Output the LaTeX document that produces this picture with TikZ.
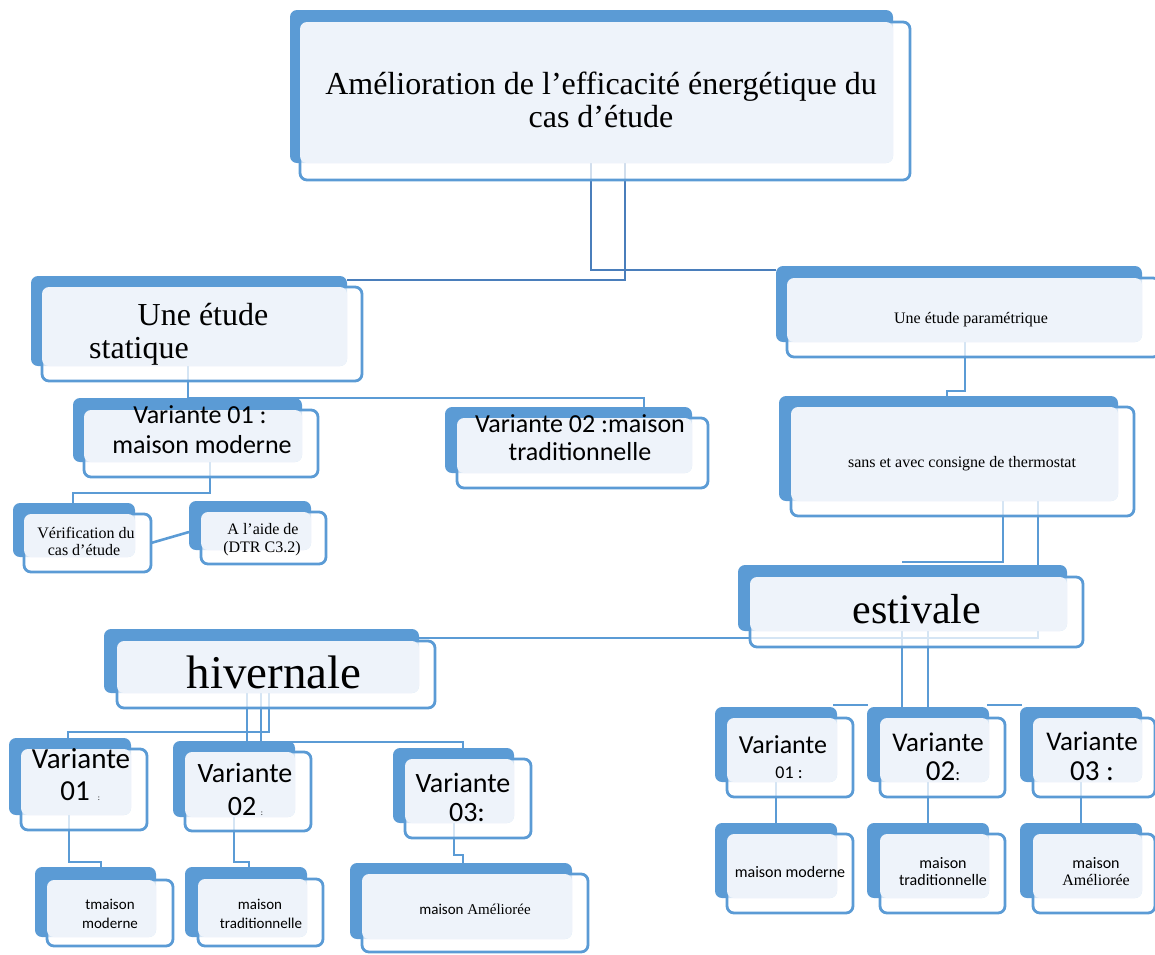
\documentclass[tikz,border=0pt]{standalone}
\usepackage{fontspec}
\setmainfont{Liberation Serif}
\newfontfamily\calfont{Carlito}
\usetikzlibrary{fit,calc,backgrounds}
\definecolor{sablue}{HTML}{5B9BD5}
\definecolor{salight}{HTML}{EEF3FA}
\definecolor{sadark}{HTML}{4A7EBB}
\tikzset{
  backbox/.style={fill=sablue, rounded corners=7pt, inner sep=0pt, outer sep=0pt},
  frontbox/.style={draw=sablue, line width=2.8pt, fill=white, fill opacity=0.75, draw opacity=1, rounded corners=7pt, inner sep=0pt, outer sep=0pt},
  lightfill/.style={fill=salight, rounded corners=7pt},
  conn/.style={draw=sablue, line width=2.6pt},
  conndark/.style={draw=sadark, line width=2.8pt},
  txt/.style={anchor=base, inner sep=0pt, text=black},
  txtw/.style={anchor=base west, inner sep=0pt, text=black},
}
\newcommand\drawsmbox[9]{%
  \node[backbox, fit={(#2,#3) (#4,#5)}] (#1b) {};
  \node[frontbox, fit={(#6,#7) (#8,#9)}] (#1) {};
  \fill[lightfill] (#1.north west) rectangle (#1b.south east);
}
\newcommand\fs[1]{\fontsize{#1}{#1}\selectfont}
\begin{document}
\begin{tikzpicture}[x=1pt,y=-1pt]
\useasboundingbox (0,0) rectangle (1155,954);
% boxes
\drawsmbox{title}{290}{10}{893}{163}{300}{22}{910}{180}
\drawsmbox{stat}{31}{276}{347}{366}{42}{287}{362}{381}
\drawsmbox{param}{776}{266}{1142}{342}{787}{278}{1160}{357}
\drawsmbox{therm}{779}{396}{1118}{501}{791}{407}{1134}{516}
\drawsmbox{est}{738}{565}{1067}{631}{750}{577}{1083}{647}
\drawsmbox{hiv}{104}{629}{419}{693}{117}{641}{435}{708}
\drawsmbox{vas}{73}{398}{302}{462}{84}{410}{318}{477}
\drawsmbox{vbs}{445}{407}{692}{473}{457}{418}{708}{488}
\drawsmbox{verif}{13}{503}{135}{557}{24}{514}{151}{572}
\drawsmbox{aide}{189}{501}{311}{550}{201}{512}{326}{564}
\drawsmbox{hva}{9}{738}{131}{815}{21}{749}{147}{830}
\drawsmbox{hvb}{173}{741}{295}{817}{185}{752}{311}{831}
\drawsmbox{hvc}{393}{748}{514}{823}{405}{759}{531}{838}
\drawsmbox{hma}{35}{867}{156}{937}{47}{880}{173}{946}
\drawsmbox{hmb}{185}{867}{307}{937}{198}{879}{323}{946}
\drawsmbox{hmc}{350}{863}{572}{939}{362}{874}{588}{952}
\drawsmbox{eva}{715}{707}{837}{782}{727}{718}{853}{797}
\drawsmbox{evb}{867}{707}{989}{782}{880}{718}{1005}{797}
\drawsmbox{evc}{1020}{707}{1142}{782}{1033}{718}{1155}{797}
\drawsmbox{ema}{715}{823}{837}{898}{727}{834}{853}{913}
\drawsmbox{emb}{867}{823}{989}{898}{880}{834}{1005}{913}
\drawsmbox{emc}{1020}{823}{1142}{898}{1033}{834}{1155}{913}
% connectors
\begin{pgfonlayer}{background}
\draw[conndark] (titleb.south -| 625,0) |- (statb.east |- 0,280);
\draw[conndark] (titleb.south -| 591,0) |- (paramb.west |- 0,270);
\draw[conn] (statb.south -| 188,0) -- (vasb.north -| 188,0);
\draw[conn] (statb.south -| 188,0) |- ($(vbsb.north -| 644,0)+(0,-9)$) -- (vbsb.north -| 644,0);
\draw[conn] (vasb.south -| 210,0) -- ($(verifb.north -| 210,0)+(0,-10)$) -| (verifb.north -| 73,0);
\draw[conn] (verif.east |- 0,543) -- (aideb.west |- 0,532);
\draw[conn] (paramb.south -| 965,0) -- ($(thermb.north -| 965,0)+(0,-5)$) -| (thermb.north -| 947,0);
\draw[conn] (thermb.south -| 1003,0) |- ($(estb.north -| 902,0)+(0,-3)$);
\draw[conn] (thermb.south -| 1038,0) |- (hivb.east |- 0,638);
\draw[conn] (estb.south -| 902,0) -- (evbb.north -| 902,0);
\draw[conn] (estb.south -| 928,0) -- (evbb.north -| 928,0);
\draw[conn] ($(evab.north east)+(-4,-2)$) -- ($(evbb.north west)+(1,-2)$);
\draw[conn] ($(evbb.north east)+(-2,-2)$) -- ($(evcb.north west)+(2,-2)$);
\draw[conn] (evab.south -| 776,0) -- (emab.north -| 776,0);
\draw[conn] (evbb.south -| 928,0) -- (embb.north -| 928,0);
\draw[conn] (evcb.south -| 1081,0) -- (emcb.north -| 1081,0);
\draw[conn] (hivb.south -| 269,0) |- ($(hvab.north -| 68,0)+(0,-6)$) -- (hvab.north -| 68,0);
\draw[conn] (hivb.south -| 247,0) -- (hvbb.north -| 247,0);
\draw[conn] (hivb.south -| 261,0) |- ($(hvcb.north -| 463,0)+(0,-6)$) -- (hvcb.north -| 463,0);
\draw[conn] (hvab.south -| 69,0) -- ($(hmab.north -| 69,0)+(0,-5)$) -| (hmab.north -| 101,0);
\draw[conn] (hvbb.south -| 234,0) -- ($(hmbb.north -| 234,0)+(0,-5)$) -| (hmbb.north -| 249,0);
\draw[conn] (hvcb.south -| 454,0) -- ($(hmcb.north -| 454,0)+(0,-8)$) -| (hmcb.north -| 463,0);
\end{pgfonlayer}
% texts
\node[txt, font=\fs{32}] (titlet1) at (601,94) {Amélioration de l’efficacité énergétique du};
\node[txt, font=\fs{32}] (titlet2) at (601,127) {cas d’étude};
\node[txt, font=\fs{32}] (statt1) at (203,325) {Une étude};
\node[txtw, font=\fs{32}] (statt2) at (89,358) {statique};
\node[txt, font=\fs{16}] (paramt) at (971,323) {Une étude paramétrique};
\node[txt, font=\fs{16}] (thermt) at (962,467) {sans et avec consigne de thermostat};
\node[txt, font=\fs{42}] (estt) at (917,623) {estivale};
\node[txt, font=\fs{47}] (hivt) at (274,688) {hivernale};
\node[txt, font=\calfont\fs{26}] (vast1) at (200,423) {Variante 01 :};
\node[txt, font=\calfont\fs{26}] (vast2) at (202,453) {maison moderne};
\node[txt, font=\calfont\fs{26}] (vbst1) at (580,432) {Variante 02 :maison};
\node[txt, font=\calfont\fs{26}] (vbst2) at (580,460) {traditionnelle};
\node[txt, font=\fs{16}] (verift1) at (86,538) {Vérification du};
\node[txt, font=\fs{16}] (verift2) at (84,555) {cas d’étude};
\node[txt, font=\fs{16}] (aidet1) at (263,534) {A l’aide de};
\node[txt, font=\fs{16}] (aidet2) at (262,552) {(DTR C3.2)};
\node[txt, font=\calfont\fs{29}] (hvat1) at (81,768) {Variante};
\node[txt, font=\calfont\fs{29}] (hvat2) at (75,800) {01};
\node[txt, font=\calfont\fs{8}] (hvat3) at (99,800) {:};
\node[txt, font=\calfont\fs{28}] (hvbt1) at (245,782) {Variante};
\node[txt, font=\calfont\fs{28}] (hvbt2) at (242,815) {02};
\node[txt, font=\calfont\fs{8}] (hvbt3) at (262,815) {:};
\node[txt, font=\calfont\fs{28}] (hvct1) at (463,792) {Variante};
\node[txt, font=\calfont\fs{28}] (hvct2) at (467,821) {03:};
\node[txt, font=\calfont\fs{15}] (hmat1) at (110,909) {tmaison};
\node[txt, font=\calfont\fs{15}] (hmat2) at (110,928) {moderne};
\node[txt, font=\calfont\fs{15}] (hmbt1) at (260,909) {maison};
\node[txt, font=\calfont\fs{15}] (hmbt2) at (261,928) {traditionnelle};
\node[txt, font=\fs{15}] (hmct) at (475,914) {{\calfont maison} Améliorée};
\node[txt, font=\calfont\fs{26}] (evat1) at (783,753) {Variante};
\node[txt, font=\calfont\fs{18}] (evat2) at (789,778) {01 :};
\node[txt, font=\calfont\fs{27}] (evbt1) at (938,751) {Variante};
\node[txt, font=\calfont\fs{29}] (evbt2) at (943,780) {02{\fs{18}:}};
\node[txt, font=\calfont\fs{27}] (evct1) at (1092,750) {Variante};
\node[txt, font=\calfont\fs{29}] (evct2) at (1092,780) {03 :};
\node[txt, font=\calfont\fs{16}] (emat) at (790,877) {maison moderne};
\node[txt, font=\calfont\fs{16}] (embt1) at (943,868) {maison};
\node[txt, font=\calfont\fs{16}] (embt2) at (943,885) {traditionnelle};
\node[txt, font=\calfont\fs{16}] (emct1) at (1096,868) {maison};
\node[txt, font=\fs{16}] (emct2) at (1096,885) {Améliorée};
\end{tikzpicture}
\end{document}
